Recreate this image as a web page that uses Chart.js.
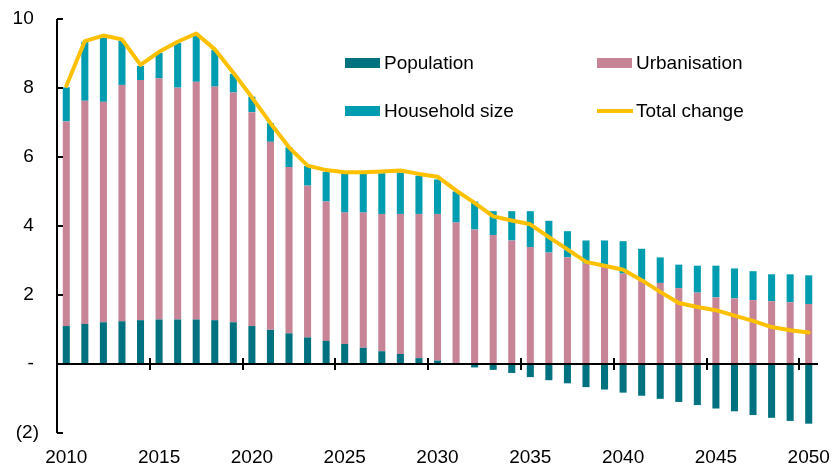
<!DOCTYPE html>
<html>
<head>
<meta charset="utf-8">
<script src="https://cdn.jsdelivr.net/npm/chart.js@4/dist/chart.umd.min.js"></script>
<style>
  body { margin: 0; background: #fff; }
</style>
</head>
<body>
<canvas id="myChart" width="833" height="469"></canvas>
<script>
  const years = [];
  for (let yr = 2010; yr <= 2050; yr++) years.push(yr);

  const population = [
    1.10, 1.16, 1.21, 1.24, 1.27, 1.29, 1.29, 1.29, 1.27, 1.21,
    1.10, 0.99, 0.89, 0.77, 0.67, 0.58, 0.47, 0.37, 0.29, 0.17,
    0.10, -0.01, -0.10, -0.17, -0.26, -0.38, -0.47, -0.56, -0.67, -0.74,
    -0.83, -0.92, -1.01, -1.10, -1.19, -1.29, -1.37, -1.48, -1.56, -1.65,
    -1.73
  ];

  const urbanisation = [
    5.93, 6.47, 6.39, 6.85, 6.96, 6.99, 6.72, 6.89, 6.77, 6.66,
    6.20, 5.45, 4.82, 4.40, 4.04, 3.81, 3.92, 3.98, 4.06, 4.18,
    4.25, 4.10, 3.90, 3.74, 3.58, 3.39, 3.23, 3.09, 2.91, 2.81,
    2.62, 2.44, 2.35, 2.20, 2.07, 1.93, 1.90, 1.85, 1.82, 1.79,
    1.74
  ];

  const householdSize = [
    0.99, 1.71, 1.86, 1.28, 0.41, 0.74, 1.30, 1.36, 1.06, 0.54,
    0.45, 0.54, 0.57, 0.57, 0.86, 1.12, 1.12, 1.18, 1.20, 1.11,
    1.00, 0.90, 0.81, 0.69, 0.85, 1.04, 0.92, 0.76, 0.67, 0.77,
    0.94, 0.90, 0.74, 0.68, 0.78, 0.92, 0.87, 0.84, 0.78, 0.81,
    0.83
  ];

  const totalChange = [
    8.06, 9.36, 9.52, 9.41, 8.67, 9.05, 9.34, 9.58, 9.12, 8.44,
    7.73, 6.98, 6.28, 5.75, 5.62, 5.56, 5.56, 5.58, 5.61, 5.51,
    5.43, 5.03, 4.67, 4.28, 4.16, 4.05, 3.68, 3.32, 2.96, 2.85,
    2.73, 2.43, 2.09, 1.77, 1.65, 1.56, 1.40, 1.25, 1.07, 0.98,
    0.91
  ];

  const colPop = '#00727f';
  const colUrb = '#c88497';
  const colHh = '#009db0';
  const colTotal = '#ffc000';

  Chart.defaults.font.family = '"Liberation Sans", Arial, sans-serif';
  Chart.defaults.font.size = 19;
  Chart.defaults.color = '#000';

  // axis lines and tick marks drawn like the Excel original
  const axisDecor = {
    id: 'axisDecor',
    afterDatasetsDraw(chart) {
      const { ctx, chartArea, scales: { x, y } } = chart;
      ctx.save();
      ctx.strokeStyle = '#000';
      ctx.lineWidth = 2;
      ctx.beginPath();
      ctx.moveTo(chartArea.left, chartArea.top);
      ctx.lineTo(chartArea.left, chartArea.bottom);
      y.ticks.forEach(t => {
        const py = Math.round(y.getPixelForValue(t.value));
        ctx.moveTo(chartArea.left, py);
        ctx.lineTo(chartArea.left + 6, py);
      });
      const y0 = Math.round(y.getPixelForValue(0));
      ctx.moveTo(chartArea.left, y0);
      ctx.lineTo(chartArea.right, y0);
      years.forEach((yr, i) => {
        if (i > 0 && yr % 5 === 0) {
          const px = Math.round((x.getPixelForValue(i - 1) + x.getPixelForValue(i)) / 2);
          ctx.moveTo(px, y0 - 6);
          ctx.lineTo(px, y0 + 6);
        }
      });
      ctx.stroke();
      ctx.restore();
    }
  };

  // two-column legend inside the plot
  const legendBox = {
    id: 'legendBox',
    afterDraw(chart) {
      const ctx = chart.ctx;
      const items = [
        { ds: 1, x: 345, y: 63 },
        { ds: 2, x: 597, y: 63 },
        { ds: 3, x: 345, y: 111 },
        { ds: 0, x: 597, y: 111 }
      ];
      ctx.save();
      ctx.font = '19px "Liberation Sans", Arial, sans-serif';
      ctx.textBaseline = 'middle';
      ctx.fillStyle = '#000';
      items.forEach(it => {
        const ds = chart.data.datasets[it.ds];
        if (ds.type === 'line') {
          ctx.strokeStyle = ds.borderColor;
          ctx.lineWidth = 4;
          ctx.beginPath();
          ctx.moveTo(it.x, it.y);
          ctx.lineTo(it.x + 36, it.y);
          ctx.stroke();
        } else {
          ctx.fillStyle = ds.backgroundColor;
          ctx.fillRect(it.x, it.y - 5, 35, 10);
        }
        ctx.fillStyle = '#000';
        ctx.fillText(ds.label, it.x + 39, it.y + 1);
      });
      ctx.restore();
    }
  };

  const data = {
    labels: years,
    datasets: [
      {
        type: 'line',
        label: 'Total change',
        data: totalChange,
        borderColor: colTotal,
        backgroundColor: colTotal,
        borderWidth: 4,
        pointRadius: 0,
        tension: 0,
        borderJoinStyle: 'round',
        borderCapStyle: 'round',
        stack: 'total'
      },
      {
        label: 'Population',
        data: population,
        backgroundColor: colPop,
        stack: 'bars'
      },
      {
        label: 'Urbanisation',
        data: urbanisation,
        backgroundColor: colUrb,
        stack: 'bars'
      },
      {
        label: 'Household size',
        data: householdSize,
        backgroundColor: colHh,
        stack: 'bars'
      }
    ]
  };

  const config = {
    type: 'bar',
    data: data,
    options: {
      responsive: false,
      animation: false,
      devicePixelRatio: 1,
      datasets: {
        bar: { categoryPercentage: 1, barPercentage: 0.38 }
      },
      layout: { padding: { top: 19, right: 15, left: 0, bottom: 0 } },
      plugins: {
        legend: { display: false },
        tooltip: { enabled: false }
      },
      scales: {
        x: {
          stacked: true,
          grid: { display: false, drawTicks: false },
          border: { display: false },
          ticks: {
            autoSkip: false,
            maxRotation: 0,
            padding: 13,
            callback: function (val, i) {
              return years[i] % 5 === 0 ? String(years[i]) : '';
            }
          },
          afterFit: s => {
            s.height = 36;
            s.paddingLeft = 0;
            s.paddingRight = 0;
          }
        },
        y: {
          stacked: true,
          min: -2,
          max: 10,
          grid: { display: false, drawTicks: false },
          border: { display: false },
          ticks: {
            stepSize: 2,
            padding: 18,
            callback: function (v) {
              if (v < 0) return '(' + Math.abs(v) + ')';
              if (v === 0) return '- ';
              return v + ' ';
            }
          },
          afterFit: s => {
            s.width = 57;
            s.paddingTop = 0;
            s.paddingBottom = 0;
          }
        }
      }
    },
    plugins: [axisDecor, legendBox]
  };

  const myChart = new Chart(
    document.getElementById('myChart'),
    config
  );
</script>
</body>
</html>
